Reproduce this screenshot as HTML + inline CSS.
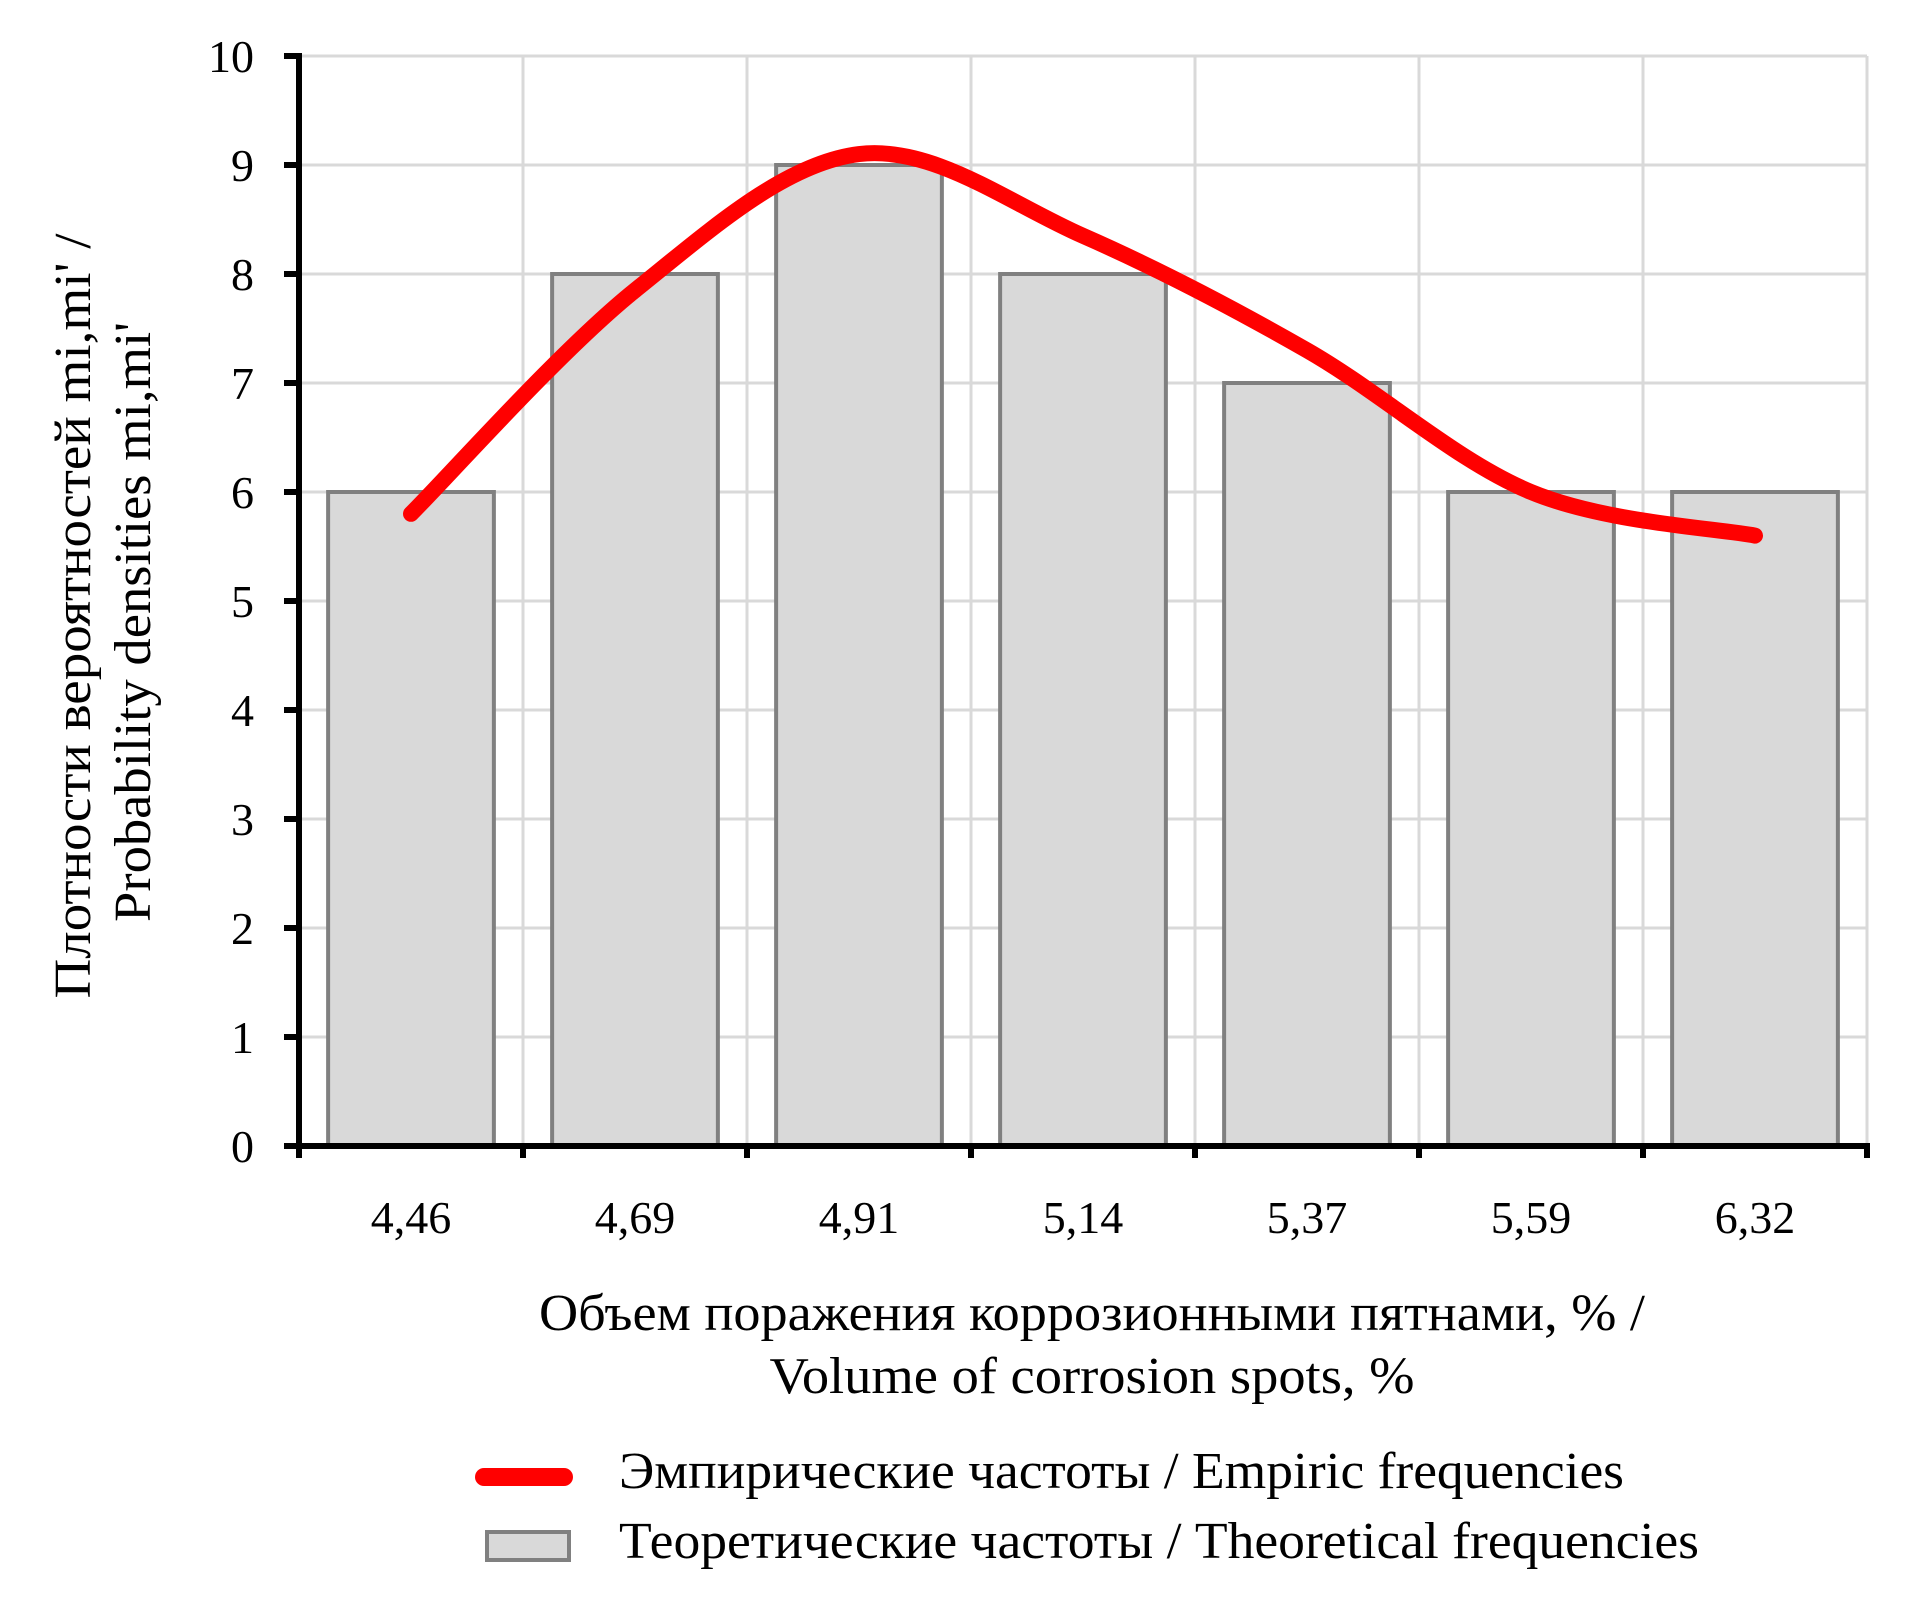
<!DOCTYPE html>
<html><head><meta charset="utf-8"><style>html,body{margin:0;padding:0;background:#fff}svg{display:block}text{font-family:"Liberation Serif",serif;fill:#000}</style></head>
<body>
<svg id="chart" width="1916" height="1608" viewBox="0 0 1916 1608" xmlns="http://www.w3.org/2000/svg">
<g id="grid"></g>
<g id="bars"></g>
<g id="line"></g>
<g id="axes"></g>
<text x="1092" y="1330" font-size="52" text-anchor="middle" textLength="1106" lengthAdjust="spacingAndGlyphs">Объем поражения коррозионными пятнами, % /</text>
<text x="1092" y="1393" font-size="52" text-anchor="middle" textLength="645" lengthAdjust="spacingAndGlyphs">Volume of corrosion spots, %</text>
<text transform="translate(90,616) rotate(-90)" font-size="52" text-anchor="middle" textLength="765" lengthAdjust="spacingAndGlyphs">Плотности вероятностей mi,mi' /</text>
<text transform="translate(150,622) rotate(-90)" font-size="52" text-anchor="middle" textLength="600" lengthAdjust="spacingAndGlyphs">Probability densities mi,mi'</text>
<g>
<line x1="484" y1="1477" x2="564" y2="1477" stroke="#ff0000" stroke-width="18" stroke-linecap="round"/>
<text x="619" y="1488" font-size="52" textLength="1005" lengthAdjust="spacingAndGlyphs">Эмпирические частоты / Empiric frequencies</text>
<rect x="487" y="1532" width="82" height="28" fill="#d9d9d9" stroke="#808080" stroke-width="4"/>
<text x="619" y="1558" font-size="52" textLength="1080" lengthAdjust="spacingAndGlyphs">Теоретические частоты / Theoretical frequencies</text>
</g>
</svg>
<script>
const categories = ["4,46","4,69","4,91","5,14","5,37","5,59","6,32"];
const theoretical = [6,8,9,8,7,6,6];
const empiric = [5.8,7.85,9.1,8.35,7.3,6.0,5.6];
const yTicks = [0,1,2,3,4,5,6,7,8,9,10];

const NS="http://www.w3.org/2000/svg";
const X0=299, BAND=224, Y0=1146, UNIT=109;
const yMax=10;
function yS(v){return Y0 - v*UNIT;}
function xBand(i){return X0 + i*BAND;}
function xC(i){return X0 + (i+0.5)*BAND;}
function mk(tag, attrs, parent){const e=document.createElementNS(NS,tag);for(const k in attrs)e.setAttribute(k,attrs[k]);parent.appendChild(e);return e;}
const grid=document.getElementById('grid'), bars=document.getElementById('bars'), lineG=document.getElementById('line'), axes=document.getElementById('axes');
const right = xBand(categories.length);
yTicks.forEach(t=>{
  if(t>0){const g=mk('line',{x1:X0,x2:right,y1:yS(t),y2:yS(t),stroke:'#d9d9d9','stroke-width':3},grid);
  
  }
  const tk=mk('line',{x1:284,x2:X0,y1:yS(t),y2:yS(t),stroke:'#000','stroke-width':6},axes);
  
  
  const tl=mk('text',{x:254,y:yS(t)+16,'font-size':46,'text-anchor':'end'},axes);
  
  
  tl.textContent=t;
});
for(let i=1;i<=categories.length;i++){
  const g=mk('line',{x1:xBand(i),x2:xBand(i),y1:yS(yMax),y2:Y0,stroke:'#d9d9d9','stroke-width':3},grid);
  
  
}
categories.forEach((c,i)=>{
  const bw=BAND*0.74, bx=xBand(i)+(BAND-bw)/2;
  const r=mk('rect',{x:bx,y:yS(theoretical[i]),width:bw,height:Y0-yS(theoretical[i]),fill:'#d9d9d9',stroke:'#808080','stroke-width':4},bars);
  
  
  const l=mk('text',{x:xC(i),y:1233,'font-size':46,'text-anchor':'middle'},axes);
  
  
  l.textContent=c;
});
const pts=empiric.map((v,i)=>[xC(i),yS(v)]);
let d='M'+pts[0][0]+','+pts[0][1];
for(let i=0;i<pts.length-1;i++){
  const p0=pts[Math.max(0,i-1)],p1=pts[i],p2=pts[i+1],p3=pts[Math.min(pts.length-1,i+2)];
  const c1=[p1[0]+(p2[0]-p0[0])/6,p1[1]+(p2[1]-p0[1])/6];
  const c2=[p2[0]-(p3[0]-p1[0])/6,p2[1]-(p3[1]-p1[1])/6];
  d+=' C'+c1[0]+','+c1[1]+' '+c2[0]+','+c2[1]+' '+p2[0]+','+p2[1];
}
const pth=mk('path',{d:d,fill:'none',stroke:'#ff0000','stroke-width':16,'stroke-linecap':'round','stroke-linejoin':'round'},lineG);


const ya=mk('line',{x1:X0,x2:X0,y1:yS(yMax)-3,y2:Y0+3,stroke:'#000','stroke-width':6},axes);


const xa=mk('line',{x1:X0-3,x2:right+3,y1:Y0,y2:Y0,stroke:'#000','stroke-width':6},axes);


for(let i=0;i<=categories.length;i++){
  const t=mk('line',{x1:xBand(i),x2:xBand(i),y1:Y0,y2:Y0+12,stroke:'#000','stroke-width':6},axes);
  
  
}
</script>
</body></html>
